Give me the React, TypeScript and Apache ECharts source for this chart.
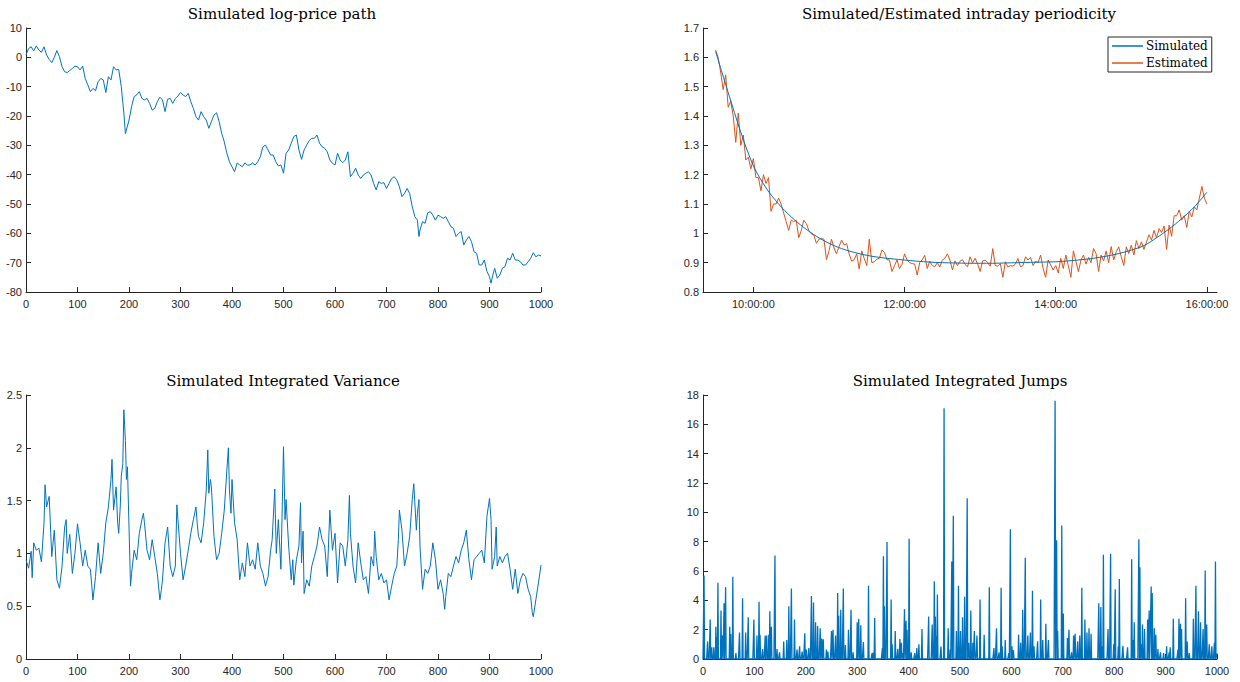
import React, { useEffect, useRef } from "react";
import * as echarts from "echarts";

// ---------- Data ----------
const priceX = [0,5,10,15,20,25,30,35,40,45,50,55,60,65,70,75,80,85,90,95,100,105,110,115,120,125,130,135,140,145,150,155,160,165,170,175,180,185,190,193,200,205,210,215,220,225,230,235,240,245,250,255,260,265,270,275,280,285,290,295,300,305,310,315,320,325,330,335,340,345,350,355,360,365,370,375,380,385,390,395,400,405,410,415,420,425,430,435,440,445,450,455,460,465,470,475,480,485,490,495,500,505,510,515,520,525,530,535,540,545,550,555,560,565,570,575,580,585,590,595,600,605,610,615,620,625,630,635,640,645,650,655,660,665,670,675,680,685,690,695,700,705,710,715,720,725,730,735,740,745,750,755,760,763,765,770,775,780,785,790,795,800,805,810,815,820,825,830,835,840,845,850,855,860,865,870,875,880,885,890,895,900,903,905,910,915,920,925,930,935,940,945,950,955,960,965,970,975,980,985,990,995,1000];
const priceY = [0.8,3,3.6,2.2,3.9,2.5,1.7,3.6,0.8,-0.7,-1.8,0,2.3,0.2,-3.2,-4.9,-5.2,-4.5,-3.8,-3,-3.2,-4.3,-3,-7.2,-9.4,-11.7,-10.6,-11.4,-8.3,-7.2,-7.7,-12,-6.6,-7.7,-3.2,-4.3,-4.1,-10,-19,-26,-21.4,-16.8,-13.4,-12.8,-11.7,-14,-14.5,-14,-15.7,-18,-17.4,-15.1,-13.6,-14.5,-18.5,-14.3,-14,-15.7,-14,-13.2,-12,-12.8,-13.4,-12.3,-15.1,-17.4,-20.2,-21.4,-18.5,-20.2,-21.4,-24.2,-21.9,-19.7,-18.9,-21.9,-25.9,-28.8,-32.7,-35.6,-37.3,-39,-36,-36.7,-37.3,-36,-36.7,-36.7,-36,-36.7,-35.6,-33.9,-30.5,-29.9,-31.6,-33.3,-33.3,-35.6,-37,-36.7,-39.5,-32.7,-31.6,-29.3,-27,-26.5,-31.6,-34.8,-31.6,-29.9,-28.4,-27.6,-27.6,-26.5,-29.3,-30.5,-31,-32.2,-35,-36.1,-36.7,-32.7,-35,-35.9,-35,-32.2,-40.7,-39.5,-37.8,-40.1,-41.3,-40.1,-39.5,-39,-40.1,-43,-45.2,-42.4,-43,-42.7,-44.7,-43,-41.3,-40.7,-41.8,-44.1,-47.5,-46.4,-44.7,-46.4,-50.9,-54.3,-55.5,-61.1,-58.9,-56,-56.6,-53,-52.6,-53.8,-55.5,-53.8,-54.3,-54.9,-54.3,-56,-57.7,-58.3,-61.1,-60,-59.4,-64,-62.3,-61.1,-62.8,-66.3,-66.8,-70.8,-70.8,-69.1,-73,-74.8,-77,-75.3,-71.9,-75.3,-74.2,-71.9,-71.4,-68.5,-69.1,-66.8,-69.1,-69.1,-69.7,-70.8,-70.8,-69.7,-68.5,-66.6,-68,-67.4,-67.7];

// intraday periodicity, time in minutes after midnight
const simTimes = [570,580,590,600,610,620,630,640,650,660,670,680,690,700,710,720,730,740,750,760,770,780,790,800,810,820,830,840,850,860,870,880,890,900,910,920,930,940,950,960];
const simValues = [1.62,1.48,1.345,1.23,1.155,1.1,1.056,1.02,0.99,0.966,0.948,0.935,0.925,0.918,0.913,0.909,0.905,0.902,0.9,0.899,0.898,0.898,0.898,0.899,0.9,0.901,0.902,0.903,0.906,0.91,0.915,0.922,0.931,0.943,0.958,0.985,1.015,1.05,1.09,1.14];
const estStartMin = 570;
const estStepMin = 2;
const estValues = [1.625,1.6,1.55,1.49,1.54,1.43,1.45,1.4,1.31,1.41,1.3,1.335,1.25,1.26,1.22,1.255,1.19,1.19,1.145,1.2,1.17,1.19,1.075,1.1,1.1,1.12,1.1,1.07,1.04,1.01,1.045,1.04,1.045,0.985,1.01,1.045,1.033,1.01,0.998,0.994,0.966,0.98,0.982,0.98,0.91,0.94,0.98,0.95,0.93,0.955,0.977,0.96,0.965,0.93,0.905,0.91,0.93,0.878,0.94,0.914,0.89,0.98,0.9,0.903,0.912,0.915,0.943,0.935,0.91,0.909,0.87,0.89,0.909,0.88,0.895,0.93,0.909,0.9,0.897,0.895,0.858,0.9,0.91,0.925,0.88,0.905,0.89,0.886,0.9,0.885,0.909,0.915,0.93,0.909,0.875,0.906,
0.89,0.905,0.91,0.894,0.886,0.92,0.899,0.915,0.895,0.87,0.906,0.909,0.9,0.888,0.948,0.89,0.888,0.897,0.85,0.903,0.885,0.89,0.888,0.895,0.914,0.886,0.89,0.92,0.909,0.918,0.89,0.905,0.9,0.926,0.88,0.85,0.909,0.892,0.875,0.89,0.865,0.915,0.88,0.926,0.89,0.85,0.94,0.905,0.869,0.909,0.926,0.895,0.918,0.9,0.948,0.931,0.87,0.926,0.906,0.94,0.9,0.955,0.909,0.937,0.954,0.92,0.89,0.954,0.931,0.96,0.926,0.975,0.948,0.971,0.945,0.97,0.995,0.977,1.01,0.985,1.016,1.003,1.025,0.945,1.028,0.99,1.06,1.06,1.08,1.045,1.06,1.02,1.075,1.056,1.09,1.08,1.12,1.16,1.12,1.1];
const timeTicks = [600, 720, 840, 960];

const varX = [0,5,10,12,15,20,25,30,35,37,40,45,50,55,60,65,70,75,78,80,85,90,95,100,105,110,115,120,125,130,135,140,145,150,155,160,165,167,170,175,178,180,183,185,188,190,193,195,197,200,203,205,210,215,220,225,228,230,235,240,245,250,255,260,263,265,270,275,280,285,290,293,295,300,305,310,315,320,325,330,333,335,340,345,350,353,355,358,360,365,370,375,380,385,390,393,395,398,400,405,410,415,420,425,430,435,440,445,450,455,460,465,470,475,478,483,486,490,495,500,503,505,510,515,518,520,525,530,533,535,538,540,545,550,555,560,565,570,575,580,585,590,595,600,605,610,615,620,625,628,630,635,640,645,650,655,660,665,670,675,677,680,685,690,695,700,705,710,715,720,723,725,730,735,740,745,750,753,755,758,760,763,765,770,775,780,785,790,795,800,805,810,813,815,820,825,830,835,840,845,850,855,860,865,870,875,880,885,890,895,900,903,905,910,913,915,920,925,930,935,940,945,950,955,960,965,970,975,980,983,985,990,995,1000];
const varY = [0.94,0.86,1.02,0.77,1.1,1.03,1.05,0.92,1.29,1.65,1.44,1.54,0.97,1.22,0.75,0.67,0.88,1.25,1.32,1.0,1.18,0.81,1.0,1.28,1.1,0.88,1.03,0.88,0.85,0.56,0.78,1.1,0.81,1.0,1.29,1.44,1.7,1.89,1.41,1.63,1.29,1.19,1.44,1.73,1.85,2.36,2.07,1.7,1.82,1.25,0.69,0.81,1.03,0.94,1.19,1.32,1.38,1.29,1.03,0.94,1.13,0.97,0.81,0.56,0.66,0.75,1.1,1.25,0.88,0.78,0.88,1.46,1.32,1.0,0.75,0.88,1.03,1.19,1.32,1.44,1.25,1.16,1.1,1.29,1.6,1.98,1.57,1.7,1.63,1.16,0.94,1.0,1.19,1.41,1.79,2.0,1.6,1.38,1.7,1.29,1.13,0.75,0.91,0.78,1.1,0.88,0.94,0.85,1.1,0.88,0.81,0.69,0.78,1.03,1.13,1.61,1.0,1.32,0.85,2.01,1.32,1.51,1.07,0.75,0.94,0.7,0.94,1.07,1.48,0.91,1.21,0.62,0.75,0.69,0.88,0.97,1.07,1.25,1.13,1.07,0.78,1.41,1.03,1.19,0.72,1.1,1.07,0.88,1.13,1.55,1.19,0.88,0.72,1.1,0.91,0.75,0.78,0.62,0.97,0.88,1.21,0.97,0.75,0.81,0.72,0.75,0.56,0.69,0.81,0.88,1.13,1.41,1.22,0.88,1.0,1.16,1.51,1.66,1.48,1.22,1.38,1.51,1.07,0.66,0.85,0.81,0.88,1.1,0.94,0.66,0.75,0.62,0.47,0.59,0.81,0.78,0.88,0.97,0.91,1.03,1.1,1.22,0.94,0.75,0.94,0.97,1.0,1.03,0.91,1.35,1.52,1.32,0.85,0.97,1.25,0.88,0.97,0.91,0.97,1.0,0.85,0.66,0.85,0.62,0.75,0.81,0.78,0.66,0.59,0.44,0.4,0.56,0.72,0.89];

const jumpX = [2,9,14,17,21,25,27,29,35,38,41,44,52,54,58,64,71,77,83,88,99,105,109,111,116,121,124,128,130,133,140,144,149,157,163,167,172,178,183,188,193,198,201,206,211,215,219,223,228,231,234,240,243,250,253,258,262,264,268,273,277,283,288,292,300,303,307,312,322,329,332,334,349,351,353,358,366,368,374,379,383,386,389,392,395,397,401,405,412,416,420,426,439,446,450,452,454,456,463,469,477,481,484,487,493,497,501,505,509,514,517,521,525,528,533,539,547,557,566,571,576,580,582,588,595,598,601,604,614,618,622,627,632,637,641,644,651,657,661,667,672,685,688,690,698,701,709,712,717,721,724,729,733,737,743,747,751,755,770,774,777,779,788,793,799,802,808,810,817,826,834,837,839,848,850,853,855,859,865,868,871,872,874,878,881,885,890,896,902,907,909,915,924,926,929,931,939,942,946,954,959,961,964,968,973,977,980,985,990,995,997,1000];
const jumpY = [5.7,1.2,2.7,0.8,0.8,2.2,1.5,5.2,3.3,1.6,3.8,4.9,2.2,1.7,5.6,0.4,1.8,4.15,1.8,2.85,2.7,1.6,3.9,1.65,0.68,1.6,1.6,1.65,3.25,2.2,7.05,0.68,0.45,1.2,1.3,3.6,4.8,2.7,0.65,0.86,0.5,1.75,0.65,0.75,4.3,3.85,2.5,2.25,2.1,1.4,1.35,0.65,0.5,1.9,2.0,1.6,4.5,2.95,3.35,4.8,0.95,2.0,3.35,0.45,2.5,2.75,2.3,1.15,5.0,0.4,0.45,2.8,0.75,7.0,3.6,7.97,4.05,1.0,1.9,0.7,1.37,1.1,0.4,3.4,2.6,2.0,8.2,0.45,0.4,0.75,1.0,2.05,2.9,2.35,5.3,2.9,1.55,4.4,0.85,17.1,2.1,0.65,6.65,9.76,1.9,5.0,1.9,2.85,4.25,10.96,1.1,3.3,1.1,1.9,1.6,4.05,1.65,4.9,0.75,2.1,0.45,4.85,0.86,1.3,0.4,8.85,0.86,0.6,1.65,1.1,3.35,6.9,1.6,1.8,4.65,0.86,1.2,4.05,1.3,2.4,1.3,17.6,8.1,1.9,9.1,3.1,1.43,2.0,0.45,1.6,1.72,1.2,1.6,4.85,2.7,1.8,2.1,1.72,3.8,3.55,0.86,7.1,2.05,7.17,1.0,4.75,0.86,5.45,0.9,0.8,6.8,1.3,2.5,8.17,6.25,1.0,2.35,2.05,2.7,3.3,3.35,4.95,4.5,2.1,1.65,0.68,0.45,0.4,0.86,0.45,0.8,2.75,0.65,2.75,2.4,2.05,4.15,1.2,0.4,2.75,5.0,0.8,3.25,2.5,2.05,6.04,2.35,1.0,0.86,1.1,6.65,0.4];
const jumpCount = 1000;

const titles = [
  { text: "Simulated log-price path", x: 282, y: 14 },
  { text: "Simulated/Estimated intraday periodicity", x: 959, y: 14 },
  { text: "Simulated Integrated Variance", x: 283, y: 381 },
  { text: "Simulated Integrated Jumps", x: 960, y: 381 },
];

const BLUE = "#0072BD";
const ORANGE = "#D95319";
const AXIS = "#262626";
const SERIF = "'DejaVu Serif', 'Liberation Serif', serif";
const SANS = "'Liberation Sans', Arial, sans-serif";

function pad2(n: number) {
  return n < 10 ? "0" + n : "" + n;
}

export default function App() {
  const ref = useRef<HTMLDivElement>(null);
  useEffect(() => {
    document.body.style.margin = "0";
    if (!ref.current) return;
    const chart = echarts.init(ref.current, undefined, { renderer: "svg" });

    const axisBase = {
      axisLine: { show: true, onZero: false, lineStyle: { color: AXIS, width: 1 } },
      axisTick: { show: true, inside: true, length: 5, lineStyle: { color: AXIS, width: 1 } },
      axisLabel: { color: AXIS, fontSize: 11, fontFamily: SANS, margin: 6, formatter: (v: number) => String(v) },
      splitLine: { show: false },
    };
    const yBase = {
      ...axisBase,
      axisLabel: { ...axisBase.axisLabel, margin: 4 },
    };

    const grids = [
      { left: 26, top: 28, width: 515, height: 264 },
      { left: 703, top: 28, width: 514, height: 264 },
      { left: 26, top: 395, width: 515, height: 264 },
      { left: 703, top: 395, width: 514, height: 264 },
    ];

    const priceData = priceX.map((x, i) => [x, priceY[i]]);
    const simData = simTimes.map((t, i) => [t, simValues[i]]);
    const estData = estValues.map((v, i) => [estStartMin + i * estStepMin, v]);
    const varData = varX.map((x, i) => [x, varY[i]]);
    const jumpMap: Record<number, number> = {};
    jumpX.forEach((x, i) => (jumpMap[x] = jumpY[i]));
    const jumpData: number[][] = [];
    for (let i = 0; i <= jumpCount; i++) jumpData.push([i, jumpMap[i] ?? 0]);

    const lineBase = { type: "line", showSymbol: false, symbol: "none" };

    chart.setOption({
      animation: false,
      grid: grids,
      xAxis: [
        { type: "value", gridIndex: 0, min: 0, max: 1000, interval: 100, ...axisBase },
        {
          type: "value",
          gridIndex: 1,
          min: 560,
          max: 968,
          ...axisBase,
          axisTick: { ...axisBase.axisTick, customValues: timeTicks },
          axisLabel: {
            ...axisBase.axisLabel,
            customValues: timeTicks,
            formatter: (v: number) => pad2(Math.floor(v / 60)) + ":" + pad2(Math.round(v % 60)) + ":00",
          },
        },
        { type: "value", gridIndex: 2, min: 0, max: 1000, interval: 100, ...axisBase },
        { type: "value", gridIndex: 3, min: 0, max: 1000, interval: 100, ...axisBase },
      ],
      yAxis: [
        { type: "value", gridIndex: 0, min: -80, max: 10, interval: 10, ...yBase },
        { type: "value", gridIndex: 1, min: 0.8, max: 1.7, interval: 0.1, ...yBase },
        { type: "value", gridIndex: 2, min: 0, max: 2.5, interval: 0.5, ...yBase },
        { type: "value", gridIndex: 3, min: 0, max: 18, interval: 2, ...yBase },
      ],
      legend: {
        data: ["Simulated", "Estimated"],
        orient: "vertical",
        left: 1108,
        top: 37,
        icon: "rect",
        itemWidth: 31,
        itemHeight: 1.5,
        itemGap: 5,
        padding: [3, 4, 3, 4],
        borderColor: AXIS,
        borderWidth: 1,
        backgroundColor: "#fff",
        textStyle: { fontFamily: SERIF, fontSize: 12, color: "#000", padding: [0, 0, 0, -2] },
      },
      graphic: titles.map((t) => ({
        type: "text",
        x: t.x,
        y: t.y,
        style: {
          text: t.text,
          fill: "#000",
          fontFamily: SERIF,
          fontSize: 15,
          textAlign: "center",
          textVerticalAlign: "middle",
        },
      })),
      series: [
        { ...lineBase, name: "price", xAxisIndex: 0, yAxisIndex: 0, data: priceData, lineStyle: { width: 1, color: BLUE }, itemStyle: { color: BLUE } },
        { ...lineBase, name: "Estimated", xAxisIndex: 1, yAxisIndex: 1, data: estData, z: 2, lineStyle: { width: 1, color: ORANGE }, itemStyle: { color: ORANGE } },
        { ...lineBase, name: "Simulated", xAxisIndex: 1, yAxisIndex: 1, data: simData, smooth: 0.3, z: 3, lineStyle: { width: 1, color: BLUE }, itemStyle: { color: BLUE } },
        { ...lineBase, name: "variance", xAxisIndex: 2, yAxisIndex: 2, data: varData, lineStyle: { width: 1, color: BLUE }, itemStyle: { color: BLUE } },
        { ...lineBase, name: "jumps", xAxisIndex: 3, yAxisIndex: 3, data: jumpData, lineStyle: { width: 1.3, color: BLUE }, itemStyle: { color: BLUE } },
      ],
    });
    return () => chart.dispose();
  }, []);
  return <div ref={ref} style={{ width: 1240, height: 682 }} />;
}
